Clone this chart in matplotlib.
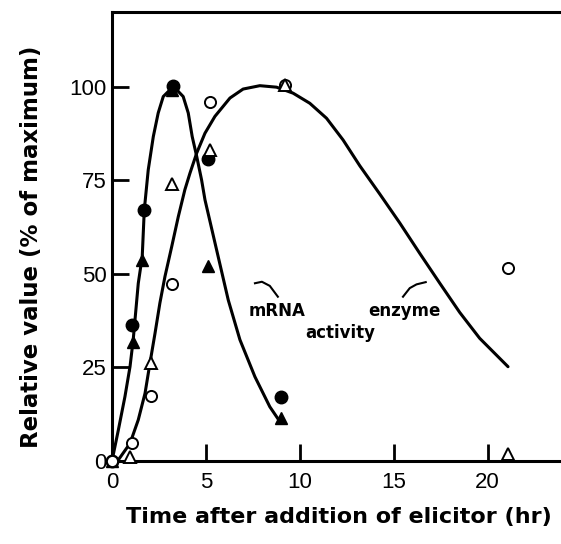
import matplotlib

matplotlib.use("Agg")
import matplotlib.pyplot as plt


# measured points (% of maximum) vs time after elicitor (hr)
mrna_circle_t = [0.0, 1.06, 1.72, 3.26, 5.12, 9.02]
mrna_circle_v = [0.0, 36.4, 67.0, 100.3, 80.7, 17.2]

mrna_triangle_t = [0.0, 1.13, 1.58, 3.17, 5.12, 9.02]
mrna_triangle_v = [0.0, 31.9, 53.7, 99.2, 52.0, 11.4]

enzyme_circle_t = [0.0, 1.05, 2.06, 3.17, 5.21, 9.2, 21.1]
enzyme_circle_v = [0.0, 4.7, 17.4, 47.3, 96.0, 100.5, 51.5]

enzyme_triangle_t = [0.96, 2.1, 3.17, 5.21, 9.2, 21.1]
enzyme_triangle_v = [1.0, 26.1, 74.0, 83.0, 100.5, 2.0]

# hand drawn curves
mrna_curve_t = [0.0, 0.34, 0.69, 0.96, 1.13, 1.40, 1.61, 1.72, 1.93, 2.20, 2.46,
                2.73, 3.09, 3.35, 3.79, 4.06, 4.27, 4.51, 4.77, 4.95, 5.57, 6.19,
                6.81, 7.61, 8.40, 8.94]
mrna_curve_v = [0.0, 8.3, 17.2, 25.2, 32.4, 47.5, 54.6, 67.1, 77.8, 86.7, 93.0,
                97.4, 99.2, 99.7, 97.4, 93.0, 86.7, 81.4, 75.1, 69.8, 56.4, 43.0,
                32.4, 22.5, 14.5, 10.5]

enzyme_curve_t = [0.0, 0.34, 0.96, 1.40, 1.76, 2.02, 2.29, 2.55, 2.82, 3.18, 3.53,
                  3.88, 4.15, 4.51, 4.95, 5.48, 6.28, 6.98, 7.87, 8.76, 9.64,
                  10.53, 11.42, 12.30, 13.19, 14.26, 15.32, 16.38, 17.45, 18.51,
                  19.57, 21.08]
enzyme_curve_v = [0.0, 0.3, 4.7, 11.0, 18.1, 26.1, 34.1, 42.2, 49.3, 57.3, 65.3,
                  72.5, 76.9, 82.3, 87.6, 92.1, 97.0, 99.4, 100.3, 99.9, 98.3,
                  95.6, 91.6, 85.8, 78.9, 71.3, 63.6, 55.5, 47.5, 39.7, 32.8, 25.2]

x_ticks = [0, 5, 10, 15, 20]
y_ticks = [0, 25, 50, 75, 100]

# leader strokes from the labels to the curves
mrna_leader_t = [7.61, 7.98, 8.40, 8.83]
mrna_leader_v = [47.5, 47.9, 46.8, 43.9]
enzyme_leader_t = [15.49, 15.85, 16.21, 16.70]
enzyme_leader_v = [43.9, 46.2, 47.2, 47.8]

TICK_FONT = ["Liberation Sans", "DejaVu Sans"]


def draw_markers(ax):
    filled = {"color": "black", "linestyle": "none", "clip_on": False, "zorder": 4}
    hollow = {"markerfacecolor": "white", "markeredgecolor": "black",
              "markeredgewidth": 1.4, "linestyle": "none", "clip_on": False, "zorder": 5}

    ax.plot(enzyme_circle_t, enzyme_circle_v, marker="o", markersize=8, **hollow)
    ax.plot(mrna_circle_t, mrna_circle_v, marker="o", markersize=9, **filled)
    ax.plot(mrna_triangle_t, mrna_triangle_v, marker="^", markersize=9, **filled)
    ax.plot(enzyme_triangle_t, enzyme_triangle_v, marker="^", markersize=8, **hollow)


def main():
    fig = plt.figure(figsize=(5.61, 5.44), dpi=100)
    ax = fig.add_axes([0.1996, 0.1526, 0.8004, 0.8254])

    ax.plot(mrna_curve_t, mrna_curve_v, color="black", linewidth=2.2,
            solid_capstyle="round", solid_joinstyle="round", clip_on=False, zorder=3)
    ax.plot(enzyme_curve_t, enzyme_curve_v, color="black", linewidth=2.2,
            solid_capstyle="round", solid_joinstyle="round", clip_on=False, zorder=3)
    draw_markers(ax)

    ax.plot(mrna_leader_t, mrna_leader_v, color="black", linewidth=1.5)
    ax.plot(enzyme_leader_t, enzyme_leader_v, color="black", linewidth=1.5)
    label_style = {"fontsize": 12, "fontweight": "bold", "ha": "center", "va": "center"}
    ax.text(8.78, 40.1, "mRNA", **label_style)
    ax.text(15.59, 40.1, "enzyme", **label_style)
    ax.text(12.13, 34.2, "activity", **label_style)

    ax.set_xlim(0, 23.9)
    ax.set_ylim(0, 120)
    ax.set_xticks(x_ticks)
    ax.set_yticks(y_ticks)
    ax.tick_params(direction="in", length=12, width=2, color="black")
    ax.tick_params(axis="x", pad=8)
    ax.tick_params(axis="y", pad=4)
    for label in ax.get_xticklabels() + ax.get_yticklabels():
        label.set_family(TICK_FONT)
        label.set_fontsize(16)

    ax.spines["right"].set_visible(False)
    for side in ("left", "bottom", "top"):
        ax.spines[side].set_linewidth(2.2)

    fig.text(0.604, 0.0496, "Time after addition of elicitor (hr)", fontsize=16,
             fontweight="bold", ha="center", va="center")
    fig.text(0.0553, 0.546, "Relative value (% of maximum)", fontsize=16.5,
             fontweight="bold", ha="center", va="center", rotation=90)

    fig.savefig("out.png", dpi=100)
    plt.close(fig)


if __name__ == "__main__":
    main()
